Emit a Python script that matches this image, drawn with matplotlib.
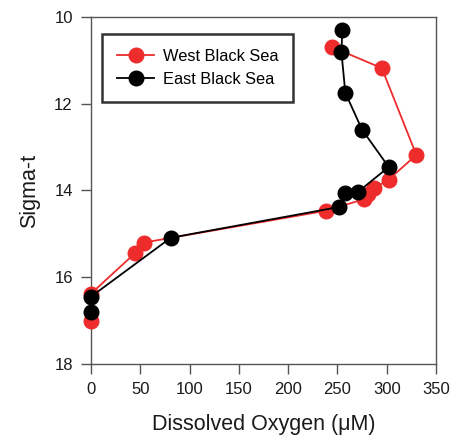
import matplotlib
matplotlib.use("Agg")
import matplotlib.pyplot as plt

plt.rcParams['font.family'] = ['Liberation Sans', 'DejaVu Sans']

west_o2 = [244, 295, 330, 302, 287, 281, 277, 238, 54, 45, 0, 0]
west_sigma = [10.69, 11.18, 13.18, 13.75, 13.95, 14.08, 14.2, 14.47, 15.2, 15.44, 16.38, 17.0]

east_o2 = [255, 254, 258, 275, 302, 271, 258, 252, 81, 0, 0]
east_sigma = [10.3, 10.8, 11.75, 12.6, 13.46, 14.03, 14.06, 14.38, 15.09, 16.45, 16.8]

x_ticks = [0, 50, 100, 150, 200, 250, 300, 350]
y_ticks = [10, 12, 14, 16, 18]

fig = plt.figure(figsize=(4.5, 4.45), dpi=100)
ax = fig.add_axes([0.202, 0.182, 0.767, 0.780])

red = '#ee2c2c'
ax.plot(west_o2, west_sigma, color=red, lw=1.3, marker='o', ms=10.5,
        mec=red, mfc=red, label='West Black Sea', zorder=3, clip_on=False)
ax.plot(east_o2, east_sigma, color='black', lw=1.3, marker='o', ms=10.5,
        mec='black', mfc='black', label='East Black Sea', zorder=4, clip_on=False)

ax.set_xlim(0, 350)
ax.set_ylim(18, 10)
ax.set_xticks(x_ticks)
ax.set_yticks(y_ticks)

for s in ax.spines.values():
    s.set_color('#555555')
    s.set_linewidth(1.0)
ax.tick_params(direction='out', length=7, width=1.0, color='#555555',
               labelsize=12, pad=6, labelcolor='#1a1a1a')

ax.set_xlabel('Dissolved Oxygen (μM)', fontsize=15.5, labelpad=12, color='#1a1a1a')
ax.set_ylabel('Sigma-t', fontsize=15.5, labelpad=10, color='#1a1a1a')

leg = ax.legend(loc='upper left', bbox_to_anchor=(0.032, 0.951), fontsize=11.8,
                frameon=True, fancybox=False, handlelength=2.3, borderaxespad=0,
                borderpad=0.9, labelspacing=0.5, handletextpad=0.5)
leg.get_frame().set_edgecolor('black')
leg.get_frame().set_linewidth(1.8)

fig.savefig('out.png', dpi=100)
